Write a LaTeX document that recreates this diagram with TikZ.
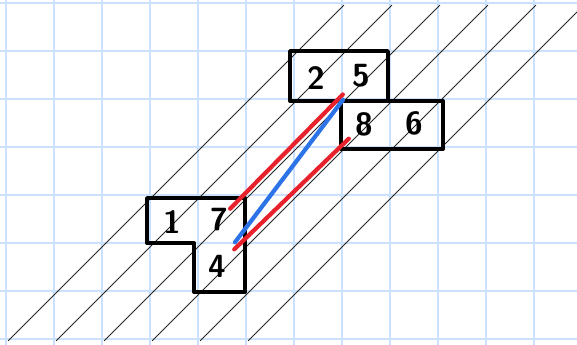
\documentclass[tikz,border=0pt]{standalone}
\usetikzlibrary{arrows.meta,positioning}
\definecolor{gridblue}{RGB}{204,224,255}
\definecolor{penred}{RGB}{232,34,44}
\definecolor{penblue}{RGB}{45,115,232}
\begin{document}
\begin{tikzpicture}[
        digit/.style={inner sep=0pt, font=\sffamily\bfseries\fontsize{19}{20}\selectfont},
        tile/.style={draw, line width=2.3pt, line join=round, line cap=round},
        hatch/.style={draw=black!85, line width=0.5pt},
        link/.style={line width=2.5pt, line cap=round},
    ]
    \useasboundingbox (-0.125,-7.125) rectangle (11.896,0.0625);
    \begin{scope}
        \clip (-0.125,-7.125) rectangle (11.896,0.0625);
        \foreach \i in {0,...,11}
            \draw[gridblue, line width=1pt] (\i,0.1) -- (\i,-7.2);
        \foreach \j in {0,...,7}
            \draw[gridblue, line width=1pt] (-0.2,-\j) -- (12,-\j);
        \foreach \k in {0,...,5}
            \draw[hatch] (0.043+\k,-7.04) -- (7.041+\k,-0.042);
    \end{scope}

    \draw[tile] (5.917,-1.0) rectangle (7.958,-2.042);
    \draw[tile] (6.979,-2.042) rectangle (9.104,-3.042);
    \draw[tile] (2.9375,-4.0625) -- (4.979,-4.0625) -- (4.979,-6.021)
        -- (3.917,-6.021) -- (3.917,-5.0) -- (2.9375,-5.0) -- cycle;

    \node[digit] (n2) at (6.458,-1.5625) {2};
    \node[digit] (n5) at (7.396,-1.521) {5};
    \node[digit] (n8) at (7.458,-2.521) {8};
    \node[digit] (n6) at (8.5,-2.5) {6};
    \node[digit] (n1) at (3.458,-4.5625) {1};
    \node[digit] (n7) at (4.4375,-4.521) {7};
    \node[digit] (n4) at (4.396,-5.479) {4};

    \draw[link, penred, shorten <=3.3mm, shorten >=5.4mm] (n7.center) -- (n5.center);
    \draw[link, penblue, shorten <=6.2mm, shorten >=6.2mm] (n4.center) -- (n5.center);
    \draw[link, penred, shorten <=5mm, shorten >=4.4mm] (n4.center) -- (n8.center);
\end{tikzpicture}
\end{document}
